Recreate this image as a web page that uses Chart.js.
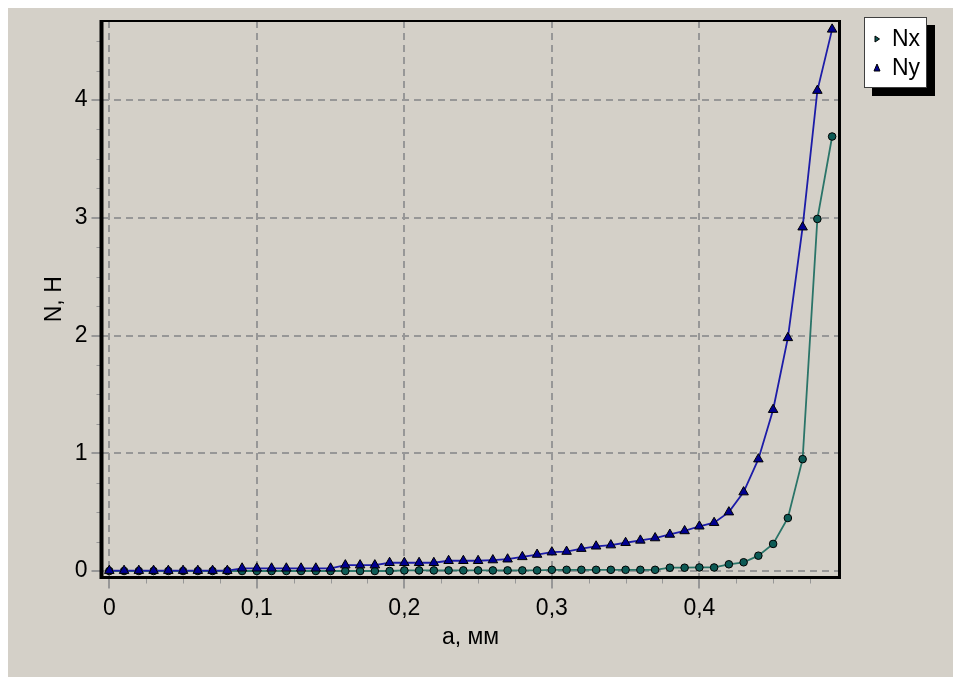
<!DOCTYPE html>
<html>
<head>
<meta charset="utf-8">
<title>N(a)</title>
<script src="https://cdn.jsdelivr.net/npm/chart.js@4.4.1/dist/chart.umd.min.js"></script>
<style>
    html, body { margin: 0; padding: 0; background: #ffffff; }
    #panel { position: absolute; left: 8px; top: 8px; width: 945px; height: 669px; background: #d4d0c8; }
</style>
</head>
<body>
<div id="panel"><canvas id="forceChart"></canvas></div>
<script>
// a, mm
const aValues = [
    0.00, 0.01, 0.02, 0.03, 0.04, 0.05, 0.06, 0.07, 0.08, 0.09,
    0.10, 0.11, 0.12, 0.13, 0.14, 0.15, 0.16, 0.17, 0.18, 0.19,
    0.20, 0.21, 0.22, 0.23, 0.24, 0.25, 0.26, 0.27, 0.28, 0.29,
    0.30, 0.31, 0.32, 0.33, 0.34, 0.35, 0.36, 0.37, 0.38, 0.39,
    0.40, 0.41, 0.42, 0.43, 0.44, 0.45, 0.46, 0.47, 0.48, 0.49
];
// Nx, H (circles)
const nxValues = [
    0, 0, 0, 0, 0, 0, 0, 0, 0, 0,
    0, 0, 0, 0, 0, 0, 0, 0, 0, 0,
    0.005, 0.005, 0.005, 0.005, 0.005, 0.005, 0.005, 0.005, 0.005, 0.005,
    0.01, 0.01, 0.01, 0.01, 0.01, 0.01, 0.01, 0.01, 0.028, 0.028,
    0.03, 0.03, 0.057, 0.074, 0.13, 0.23, 0.45, 0.95, 2.99, 3.69
];
// Ny, H (triangles)
const nyValues = [
    0.003, 0.003, 0.003, 0.003, 0.003, 0.003, 0.003, 0.003, 0.003, 0.023,
    0.023, 0.023, 0.023, 0.023, 0.023, 0.023, 0.05, 0.05, 0.05, 0.07,
    0.07, 0.07, 0.07, 0.087, 0.087, 0.087, 0.093, 0.10, 0.12, 0.14,
    0.16, 0.165, 0.19, 0.21, 0.22, 0.24, 0.26, 0.28, 0.31, 0.34,
    0.38, 0.41, 0.50, 0.67, 0.95, 1.37, 1.98, 2.92, 4.08, 4.60
];
const xMajorTicks = [0, 0.1, 0.2, 0.3, 0.4];
const yMajorTicks = [0, 1, 2, 3, 4];

const isMajor = (list, v) => list.some(m => Math.abs(m - v) < 1e-9);
const gridColor = '#979797';

Chart.defaults.font.family = '"Liberation Sans", Arial, sans-serif';
Chart.defaults.font.size = 23;
Chart.defaults.color = '#000000';

// frame, tick marks and the legend box
const framePlugin = {
    id: 'framePlugin',
    afterDatasetsDraw(chart) {
        const { ctx, chartArea: a, scales: { x, y } } = chart;
        ctx.save();
        ctx.strokeStyle = gridColor;
        x.ticks.forEach(t => {
            const major = isMajor(xMajorTicks, t.value);
            const px = Math.round(x.getPixelForValue(t.value));
            ctx.lineWidth = major ? 2 : 1;
            ctx.beginPath();
            ctx.moveTo(px + (major ? 0 : 0.5), a.bottom);
            ctx.lineTo(px + (major ? 0 : 0.5), a.bottom + (major ? 11 : 6));
            ctx.stroke();
        });
        y.ticks.forEach(t => {
            const major = isMajor(yMajorTicks, t.value);
            const py = Math.round(y.getPixelForValue(t.value));
            ctx.lineWidth = major ? 2 : 1;
            ctx.beginPath();
            ctx.moveTo(a.left - (major ? 10 : 5), py + (major ? 0 : 0.5));
            ctx.lineTo(a.left, py + (major ? 0 : 0.5));
            ctx.stroke();
        });

        ctx.strokeStyle = '#000000';
        ctx.lineWidth = 2;
        ctx.beginPath();
        ctx.moveTo(a.left, a.top);
        ctx.lineTo(a.right, a.top);
        ctx.stroke();
        ctx.lineWidth = 3;
        ctx.beginPath();
        ctx.moveTo(a.right, a.top - 1);
        ctx.lineTo(a.right, a.bottom);
        ctx.stroke();
        ctx.beginPath();
        ctx.moveTo(a.left, a.bottom);
        ctx.lineTo(a.right + 1.5, a.bottom);
        ctx.stroke();
        ctx.lineWidth = 4;
        ctx.beginPath();
        ctx.moveTo(a.left, a.top - 1);
        ctx.lineTo(a.left, a.bottom + 1.5);
        ctx.stroke();

        // legend
        const bx = a.right + 24.5, by = a.top - 4, bw = 63, bh = 71;
        ctx.fillStyle = '#000000';
        ctx.fillRect(bx + 8, by + 8, bw, bh);
        ctx.fillStyle = '#ffffff';
        ctx.fillRect(bx, by, bw, bh);
        ctx.strokeStyle = '#404040';
        ctx.lineWidth = 1;
        ctx.strokeRect(bx + 0.5, by + 0.5, bw - 1, bh - 1);

        const items = [chart.data.datasets[0], chart.data.datasets[1]];
        ctx.font = '23px "Liberation Sans", Arial, sans-serif';
        ctx.textBaseline = 'middle';
        ctx.textAlign = 'left';
        items.forEach((ds, i) => {
            const cy = by + 22 + i * 29;
            const mx = bx + 13;
            ctx.fillStyle = ds.pointBackgroundColor;
            ctx.strokeStyle = '#000000';
            ctx.lineWidth = 1;
            ctx.beginPath();
            if (i === 0) {
                ctx.moveTo(mx - 2, cy - 3);
                ctx.lineTo(mx + 2.5, cy);
                ctx.lineTo(mx - 2, cy + 3);
            } else {
                ctx.moveTo(mx, cy - 4);
                ctx.lineTo(mx + 3, cy + 3);
                ctx.lineTo(mx - 3, cy + 3);
            }
            ctx.closePath();
            ctx.fill();
            ctx.stroke();
            ctx.fillStyle = '#000000';
            ctx.fillText(ds.label, bx + 28, cy + 1);
        });
        ctx.restore();
    }
};

const ctx = document.getElementById('forceChart').getContext('2d');
new Chart(ctx, {
    type: 'line',
    data: {
        datasets: [
            {
                label: 'Nx',
                data: aValues.map((a, i) => ({ x: a, y: nxValues[i] })),
                borderColor: '#2a7468',
                borderWidth: 1.8,
                pointStyle: 'circle',
                pointRadius: 3.8,
                pointBackgroundColor: '#0d5a55',
                pointBorderColor: '#000000',
                pointBorderWidth: 1,
                tension: 0,
                order: 1
            },
            {
                label: 'Ny',
                data: aValues.map((a, i) => ({ x: a, y: nyValues[i] })),
                borderColor: '#1c1ca8',
                borderWidth: 1.8,
                pointStyle: 'triangle',
                pointRadius: 5.5,
                pointBackgroundColor: '#000090',
                pointBorderColor: '#000000',
                pointBorderWidth: 1,
                tension: 0,
                order: 0
            }
        ]
    },
    options: {
        responsive: true,
        maintainAspectRatio: false,
        animation: false,
        layout: { padding: { top: 13, right: 113.5, bottom: 0, left: 0 } },
        plugins: {
            legend: { display: false },
            tooltip: { enabled: false }
        },
        scales: {
            x: {
                type: 'linear',
                min: -0.0053,
                max: 0.495,
                afterFit: scale => {
                    scale.height = 99.5;
                    scale.paddingLeft = 0;
                    scale.paddingRight = 0;
                },
                ticks: {
                    stepSize: 0.025,
                    includeBounds: false,
                    autoSkip: false,
                    maxRotation: 0,
                    padding: 17,
                    callback: v => isMajor(xMajorTicks, v) ? String(Math.round(v * 10) / 10).replace('.', ',') : ''
                },
                grid: {
                    drawTicks: false,
                    color: c => isMajor(xMajorTicks, c.tick.value) ? gridColor : 'rgba(0,0,0,0)',
                    lineWidth: c => isMajor(xMajorTicks, c.tick.value) ? 2 : 0
                },
                border: { display: false, dash: [7, 5] },
                title: {
                    display: true,
                    text: 'a, мм',
                    padding: { top: 0, bottom: 25.5 }
                }
            },
            y: {
                min: -0.0552,
                max: 4.671,
                afterFit: scale => {
                    scale.width = 93.5;
                    scale.paddingTop = 0;
                    scale.paddingBottom = 0;
                },
                ticks: {
                    stepSize: 0.25,
                    includeBounds: false,
                    autoSkip: false,
                    padding: 14,
                    callback: v => isMajor(yMajorTicks, v) ? String(Math.round(v)) : ''
                },
                grid: {
                    drawTicks: false,
                    color: c => isMajor(yMajorTicks, c.tick.value) ? gridColor : 'rgba(0,0,0,0)',
                    lineWidth: c => isMajor(yMajorTicks, c.tick.value) ? 2 : 0
                },
                border: { display: false, dash: [7, 5] },
                title: {
                    display: true,
                    text: 'N, H',
                    padding: { top: 33, bottom: 0 }
                }
            }
        }
    },
    plugins: [framePlugin]
});
</script>
</body>
</html>
